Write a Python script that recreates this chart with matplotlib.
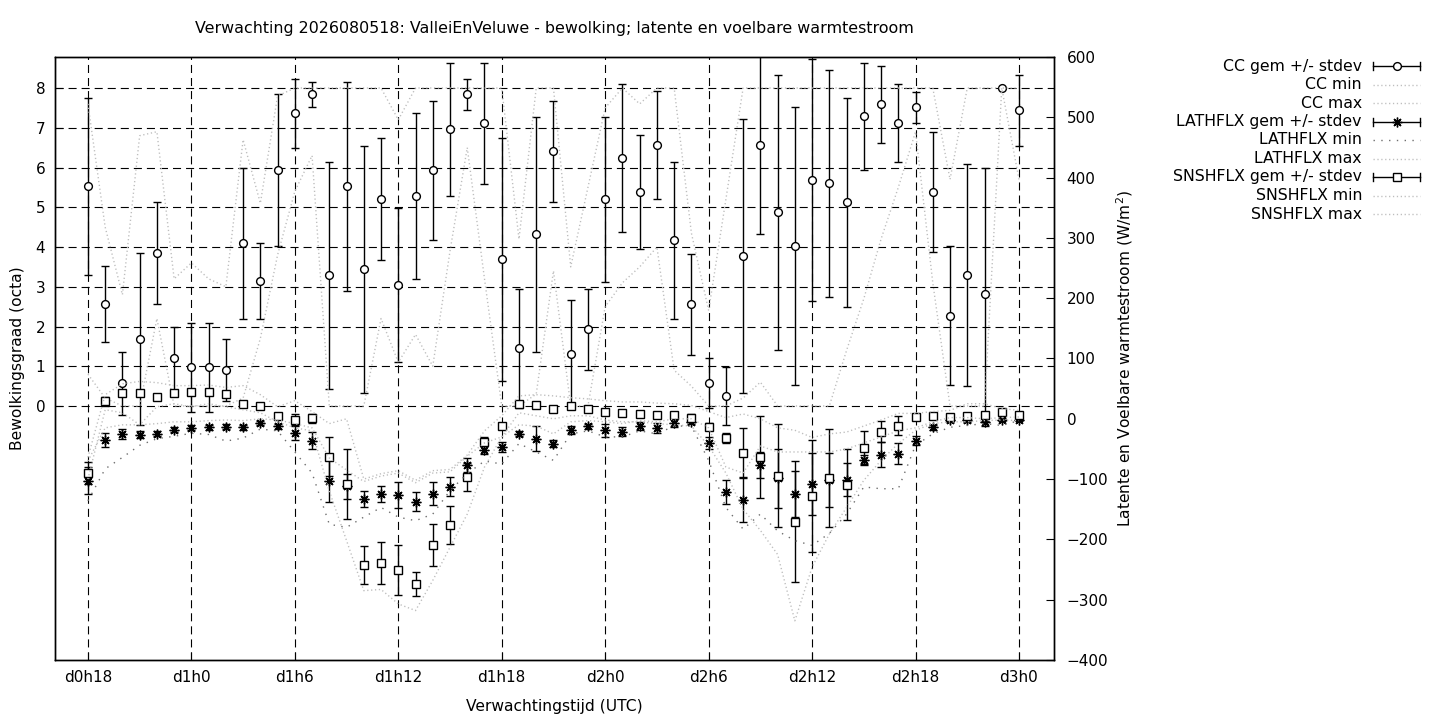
import matplotlib
matplotlib.use("Agg")
import matplotlib.pyplot as plt
from matplotlib.lines import Line2D

plt.rcParams['font.family'] = ['DejaVu Sans']
plt.rcParams['lines.scale_dashes'] = False

hours = list(range(18, 73))
tick_hours = [18, 24, 30, 36, 42, 48, 54, 60, 66, 72]
tick_labels = ["d0h18", "d1h0", "d1h6", "d1h12", "d1h18", "d2h0", "d2h6", "d2h12", "d2h18", "d3h0"]

cc_mean = [5.53, 2.56, 0.57, 1.68, 3.84, 1.20, 0.97, 0.97, 0.90, 4.09, 3.14, 5.94, 7.36, 7.84,
           3.29, 5.53, 3.44, 5.20, 3.04, 5.28, 5.93, 6.96, 7.84, 7.11, 3.69, 1.45, 4.32, 6.41,
           1.31, 1.93, 5.20, 6.23, 5.38, 6.56, 4.17, 2.56, 0.57, 0.24, 3.77, 6.56, 4.87, 4.02,
           5.68, 5.60, 5.12, 7.29, 7.59, 7.11, 7.51, 5.38, 2.27, 3.29, 2.81, 8.00, 7.44]
cc_std = [2.23, 0.96, 0.80, 2.16, 1.28, 0.80, 1.11, 1.11, 0.78, 1.91, 0.96, 1.91, 0.87, 0.32,
          2.86, 2.63, 3.11, 1.53, 1.93, 2.09, 1.75, 1.68, 0.39, 1.52, 3.05, 1.50, 2.96, 1.27,
          1.35, 1.02, 2.08, 1.86, 1.43, 1.36, 1.98, 1.27, 0.63, 0.73, 3.45, 2.24, 3.45, 3.50,
          3.04, 2.86, 2.63, 1.35, 0.97, 0.98, 0.40, 1.51, 1.75, 2.79, 3.19, 0.00, 0.89]
cc_min = [0.8, 0.2, 0.0, 0.0, 2.2, 0.0, 0.0, 0.0, 0.0, 0.2, 1.7, 3.8, 5.4, 6.3,
          0.0, 0.0, 0.0, 2.2, 1.1, 1.8, 1.0, 3.9, 6.5, 3.2, 0.0, 0.0, 0.3, 3.4,
          0.0, 0.0, 2.5, 3.1, 3.5, 4.0, 0.9, 0.5, 0.0, 0.0, 0.2, 0.6, 0.0, 0.0,
          0.0, 0.0, 1.4, 2.7, 4.2, 5.5, 6.9, 3.1, 0.0, 0.0, 0.0, 8.0, 5.7]
cc_max = [7.6, 4.5, 2.8, 6.8, 6.9, 3.2, 3.6, 3.2, 3.0, 6.7, 5.1, 7.8, 8.0, 8.0,
          8.0, 8.0, 8.0, 8.0, 7.2, 8.0, 8.0, 8.0, 8.0, 8.0, 8.0, 4.2, 8.0, 8.0,
          3.5, 5.5, 7.5, 8.0, 7.6, 8.0, 8.0, 4.35, 2.4, 5.2, 8.0, 8.0, 8.0, 8.0,
          8.0, 8.0, 8.0, 8.0, 8.0, 8.0, 8.0, 8.0, 5.7, 8.0, 8.0, 8.0, 8.0]

lath_mean = [-102.5, -34.9, -24.9, -26.6, -24.9, -18.3, -15.0, -13.9, -12.8, -13.9, -7.3, -12.2,
             -23.3, -36.5, -102.5, -112.0, -132.9, -125.2, -126.3, -137.4, -124.6, -112.5, -76.4,
             -51.0, -46.5, -24.9, -33.2, -41.5, -18.3, -12.2, -18.9, -21.1, -12.2, -15.6, -6.6,
             -5.0, -39.9, -121.3, -134.0, -76.4, -98.9, -124.6, -108.0, -101.7, -101.3, -67.6,
             -59.3, -58.1, -36.0, -13.9, -2.8, -2.8, -5.0, -1.2, -1.2]
lath_std = [22, 12, 8, 6, 4, 4, 4, 4, 4, 4, 3, 4, 11.6, 14, 35, 21, 13.8, 13.6, 21.6, 15.2,
            19.1, 15.8, 11, 8, 8.6, 4, 21, 6, 6.4, 4, 11, 7.8, 6.4, 8, 7, 4, 10, 20.5, 37.7,
            21, 49, 38.8, 51, 45, 27.4, 8, 21.3, 17.4, 7.8, 4, 3, 3, 7, 3, 3]
lath_min = [-136, -83, -64, -44, -33, -29, -24, -26, -37, -32, -17, -20, -55, -90, -175, -180,
            -163, -147, -163, -169, -158, -119, -91, -70, -75, -41, -55, -69, -25, -20, -30, -30,
            -20, -25, -12, -12, -69, -147, -183, -158, -186, -202, -210, -190, -158, -113, -116,
            -116, -44, -25, -14, -11, -8, -11, -3]
lath_max = [-70, -15, -10, -10, -8, -5, -5, -3, -2, -3, 0, -2, -8, -15, -65, -85, -104, -95,
            -90, -106, -90, -88, -62, -40, -30, -10, -12, -25, -5, -3, -5, -8, -3, -5, 0, 0,
            -15, -80, -90, -45, -55, -55, -55, -55, -50, -40, -30, -20, -15, -5, 2, 2, 0, 2, 3]

snsh_mean = [-89.7, 28.7, 43.2, 43.2, 35.4, 43.2, 44.8, 44.8, 41.5, 24.9, 21.6, 5.0, -1.2, 0.5,
             -62.6, -108.0, -242.0, -239.0, -250.8, -273.6, -209.3, -176.1, -96.3, -37.7, -11.6,
             24.9, 23.3, 16.6, 20.4, 16.6, 11.6, 10.0, 8.3, 6.6, 6.6, 1.7, -13.3, -31.6, -56.5,
             -63.1, -94.7, -170.6, -128.0, -98.0, -109.6, -48.8, -21.1, -11.6, 3.3, 5.0, 2.7,
             5.0, 6.6, 11.6, 6.6]
snsh_std = [17.6, 7, 3, 3, 2, 3, 3, 3, 3, 4, 3, 3, 9.5, 8, 32, 58.7, 31.6, 35.4, 40.7, 19.7,
            35.4, 31.6, 23, 7, 4, 4, 4, 3, 3, 3, 3, 3, 3, 3, 3, 6, 6, 8.6, 41.5, 67.6, 85.5,
            100.8, 92.5, 81, 58.7, 28.5, 17, 15.5, 3, 3, 3, 3, 3, 3, 3]
snsh_min = [-100, 15, 10, -10, 20, 25, 20, 25, 20, 15, 10, -5, -15, -20, -120, -202, -285, -283,
            -307, -318, -268, -213, -158, -80, -30, 10, 5, 0, 5, 5, -2, -5, -5, -8, -10, -12,
            -45, -90, -150, -185, -225, -335, -246, -191, -147, -102, -69, -41, -19, -8, -5, -5,
            -3, -2, -3]
snsh_max = [-64, 40, 58, 62, 60, 55, 55, 56, 52, 55, 40, 20, 30, 12, -8, 0, -100, -91, -86,
            -102, -86, -84, -60, -20, 5, 38, 40, 38, 35, 33, 30, 28, 28, 26, 25, 22, 12, 2, 8,
            0, -15, -19, -31, -25, -22, -12, -2, 9, 9, 12, 14, 25, 25, 17, 14]

W, H = 1440, 720
fig = plt.figure(figsize=(W / 100, H / 100), dpi=100)
L, R, T, B = 55, 1054, 57, 660
ax = fig.add_axes([L / W, 1 - B / H, (R - L) / W, (B - T) / H])
ax2 = ax.twinx()

fine = (0, (0.9, 1.9))
sparse = (0, (1, 4.6))
gray = '#bdbdbd'
dgray = '#6e6e6e'
ast = (8, 2, 0)

# CC
ax.errorbar(hours, cc_mean, yerr=cc_std, fmt='none', ecolor='black', elinewidth=1,
            capsize=3, capthick=1, zorder=3)
ax.plot(hours, cc_mean, ls='none', marker='o', ms=5.6, mfc='white', mec='black', mew=1, zorder=3.5)
ax.plot(hours, cc_min, color=gray, ls=fine, lw=1, zorder=4)
ax.plot(hours, cc_max, color=gray, ls=fine, lw=1, zorder=4)

# fluxes
ax2.errorbar(hours, lath_mean, yerr=lath_std, fmt='none', ecolor='black', elinewidth=1,
             capsize=3, capthick=1, zorder=3)
ax2.plot(hours, lath_mean, ls='none', marker=ast, ms=7, mfc='black', mec='black', mew=1.0, zorder=3.5)
ax2.plot(hours, lath_min, color=dgray, ls=sparse, lw=1, zorder=4)
ax2.plot(hours, lath_max, color=gray, ls=fine, lw=1, zorder=4)
ax2.errorbar(hours, snsh_mean, yerr=snsh_std, fmt='none', ecolor='black', elinewidth=1,
             capsize=3, capthick=1, zorder=3)
ax2.plot(hours, snsh_mean, ls='none', marker='s', ms=5.8, mfc='white', mec='black', mew=1, zorder=3.5)
ax2.plot(hours, snsh_min, color=gray, ls=fine, lw=1, zorder=4)
ax2.plot(hours, snsh_max, color=gray, ls=fine, lw=1, zorder=4)

# axes
ax.set_xlim(16.09, 74.03)
ax.set_ylim(-6.39, 8.78)
ax2.set_ylim(-400, 600)
ax.set_xticks(tick_hours)
ax.set_xticklabels(tick_labels)
ax.set_yticks(range(0, 9))
ax2.set_yticks(range(-400, 601, 100))
ax.grid(True, color='black', lw=0.8, ls=(0, (5.8, 3.6)))
ax.set_axisbelow(True)
ax.tick_params(axis='x', direction='in', length=6, width=0.8, labelsize=11, pad=7)
ax.tick_params(axis='y', direction='in', length=6, width=0.8, labelsize=11, pad=7, right=False)
ax2.tick_params(axis='y', direction='in', length=6, width=0.8, labelsize=11, pad=9)
for a in (ax, ax2):
    for s in a.spines.values():
        s.set_linewidth(1)
        s.set_color('black')

def fx(x):
    return x / W

def fy(y):
    return 1 - y / H

fig.text(fx(554), fy(29), "Verwachting 2026080518: ValleiEnVeluwe - bewolking; latente en voelbare warmtestroom",
         ha='center', va='center', fontsize=11.4)
fig.text(fx(554), fy(706), "Verwachtingstijd (UTC)", ha='center', va='center', fontsize=11.2)
fig.text(fx(18), fy(358), "Bewolkingsgraad (octa)", ha='center', va='center', rotation=90, fontsize=11.2)
fig.text(fx(1125), fy(358), "Latente en Voelbare warmtestroom (W/m$^2$)", ha='center', va='center',
         rotation=90, fontsize=11.2)

# legend (drawn manually to mimic gnuplot key)
legend_rows = [
    ("CC gem +/- stdev", 'eb', 'o'),
    ("CC min", 'fine', None),
    ("CC max", 'fine', None),
    ("LATHFLX gem +/- stdev", 'eb', ast),
    ("LATHFLX min", 'sparse', None),
    ("LATHFLX max", 'fine', None),
    ("SNSHFLX gem +/- stdev", 'eb', 's'),
    ("SNSHFLX min", 'fine', None),
    ("SNSHFLX max", 'fine', None),
]
x0, x1 = 1373, 1420
for i, (lab, kind, mk) in enumerate(legend_rows):
    y = 66 + i * 18.5
    fig.text(fx(1362), fy(y), lab, ha='right', va='center', fontsize=11.3)
    if kind == 'eb':
        fig.add_artist(Line2D([fx(x0), fx(x1)], [fy(y), fy(y)], color='black', lw=1))
        for xc in (x0, x1):
            fig.add_artist(Line2D([fx(xc), fx(xc)], [fy(y - 4), fy(y + 4)], color='black', lw=1))
        if mk == ast:
            fig.add_artist(Line2D([fx((x0 + x1) / 2)], [fy(y)], marker=mk, ms=7, mfc='black',
                                  mec='black', mew=1.0, ls='none'))
        else:
            fig.add_artist(Line2D([fx((x0 + x1) / 2)], [fy(y)], marker=mk, ms=5.6, mfc='white',
                                  mec='black', mew=1, ls='none'))
    elif kind == 'fine':
        fig.add_artist(Line2D([fx(x0), fx(x1)], [fy(y), fy(y)], color=gray, lw=1, ls=fine))
    else:
        fig.add_artist(Line2D([fx(x0), fx(x1)], [fy(y), fy(y)], color=dgray, lw=1, ls=sparse))

fig.savefig("out.png", dpi=100)
